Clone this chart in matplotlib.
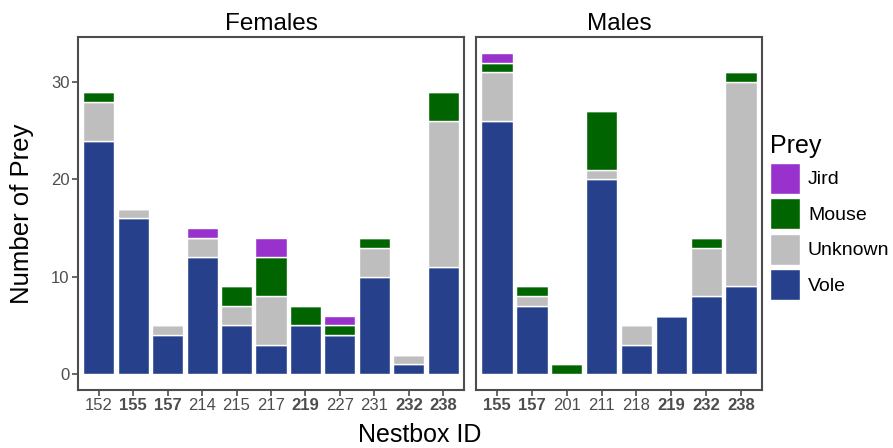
import numpy as np
import matplotlib as mpl
mpl.use('Agg')
import matplotlib.pyplot as plt
from matplotlib.patches import Patch

mpl.rcParams['font.family'] = ['Liberation Sans', 'DejaVu Sans']

prey = ['Vole', 'Unknown', 'Mouse', 'Jird']
colors = {'Vole': '#27408B', 'Unknown': '#BEBEBE', 'Mouse': '#006400', 'Jird': '#9932CC'}

# females
f_nest = ['152', '155', '157', '214', '215', '217', '219', '227', '231', '232', '238']
f_vole = [24, 16, 4, 12, 5, 3, 5, 4, 10, 1, 11]
f_unknown = [4, 1, 1, 2, 2, 5, 0, 0, 3, 1, 15]
f_mouse = [1, 0, 0, 0, 2, 4, 2, 1, 1, 0, 3]
f_jird = [0, 0, 0, 1, 0, 2, 0, 1, 0, 0, 0]

# males
m_nest = ['155', '157', '201', '211', '218', '219', '232', '238']
m_vole = [26, 7, 0, 20, 3, 6, 8, 9]
m_unknown = [5, 1, 0, 1, 2, 0, 5, 21]
m_mouse = [1, 1, 1, 6, 0, 0, 1, 1]
m_jird = [1, 0, 0, 0, 0, 0, 0, 0]

# nestboxes used by both sexes get bold labels
shared = set(f_nest) & set(m_nest)

W, H = 893, 448
fig = plt.figure(figsize=(W / 100, H / 100), dpi=100)
ax_f = fig.add_axes([78 / W, 1 - 390 / H, (464 - 78) / W, (390 - 37) / H])
ax_m = fig.add_axes([476 / W, 1 - 390 / H, (762 - 476) / W, (390 - 37) / H])

grey = '#4D4D4D'
ymax = 33

for ax, title, nest, series in [
        (ax_f, 'Females', f_nest, [f_vole, f_unknown, f_mouse, f_jird]),
        (ax_m, 'Males', m_nest, [m_vole, m_unknown, m_mouse, m_jird])]:
    x = np.arange(1, len(nest) + 1)
    bottom = np.zeros(len(nest))
    for name, vals in zip(prey, series):
        vals = np.array(vals, dtype=float)
        ax.bar(x, vals, bottom=bottom, width=0.9, color=colors[name],
               edgecolor='white', linewidth=1.0)
        bottom += vals
    ax.set_xlim(0.4, len(nest) + 0.6)
    ax.set_ylim(-0.05 * ymax, ymax * 1.05)
    ax.set_xticks(x)
    ax.set_xticklabels(nest)
    for lab in ax.get_xticklabels():
        if lab.get_text() in shared:
            lab.set_fontweight('bold')
    ax.set_yticks([0, 10, 20, 30])
    ax.tick_params(colors=grey, labelcolor=grey, labelsize=12, length=4,
                   width=1.2, pad=2)
    for sp in ax.spines.values():
        sp.set_color(grey)
        sp.set_linewidth(1.5)
    ax.set_title(title, fontsize=17.5, pad=5)

ax_m.tick_params(axis='y', left=False, labelleft=False)
ax_f.set_ylabel('Number of Prey', fontsize=18.5, va='center')
ax_f.yaxis.set_label_coords((22 - 78) / 386, 0.5)
fig.text((78 + 762) / 2 / W, 1 - 435 / H, 'Nestbox ID', ha='center',
         va='center', fontsize=18)

handles = [Patch(facecolor=colors[p], edgecolor='white') for p in prey[::-1]]
leg = fig.legend(handles, prey[::-1], loc='upper left',
                 bbox_to_anchor=(770 / W, 1 - 134 / H), frameon=False,
                 borderaxespad=0, borderpad=0,
                 title='Prey', fontsize=14, title_fontsize=18,
                 handlelength=1.55, handleheight=2.05, labelspacing=0.25,
                 handletextpad=0.4)
leg._legend_box.align = 'left'

fig.savefig('out.png', dpi=100)
